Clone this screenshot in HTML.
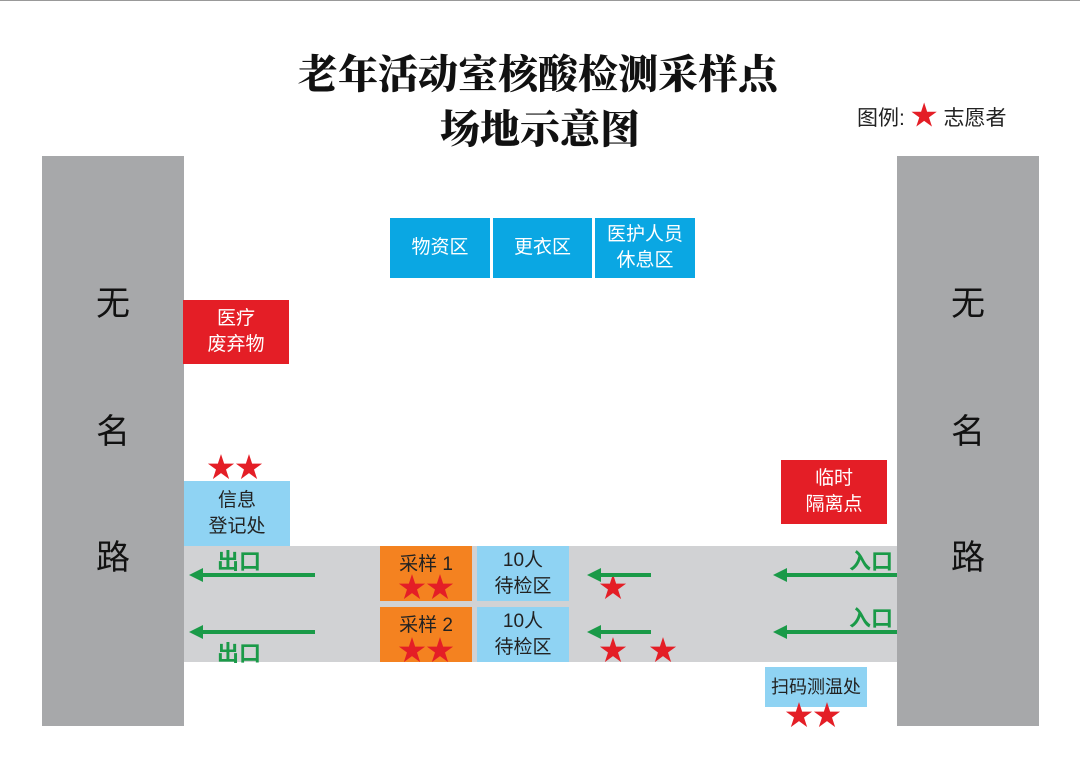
<!DOCTYPE html>
<html><head><meta charset="utf-8"><style>
body{margin:0;width:1080px;height:764px;background:#fff;position:relative;overflow:hidden;font-family:"Liberation Sans","Noto Sans CJK SC",sans-serif}
div{position:absolute;box-sizing:border-box}
.t{font-family:"Noto Serif CJK SC",serif;font-weight:900;font-size:40px;color:#111;width:1080px;text-align:center;left:0}
.road{background:#a7a8aa;top:156px;height:570px;width:142px}
.rc{position:absolute;left:0;width:100%;text-align:center;font-size:34px;color:#111}
.box{display:flex;align-items:center;justify-content:center;text-align:center;font-size:19px;line-height:26px}
.blue{background:#0aa7e3;color:#fff}
.lb{background:#8fd3f3;color:#222}
.red{background:#e41e26;color:#fff}
.or{background:#f48220;color:#222}
.st{color:#e41e26;font-size:28px;line-height:28px}
.g{color:#1a9a48;font-weight:bold;font-size:22px}
</style></head><body>
<div style="left:0;top:0;width:1080px;height:1px;background:#999"></div>
<div class="t" style="top:43px;left:-2px">老年活动室核酸检测采样点</div>
<div class="t" style="top:98px">场地示意图</div>
<div style="left:857px;top:94px;font-size:21px;color:#222">图例: <span style="color:#e41e26;font-size:27px">★</span> 志愿者</div>

<div class="road" style="left:42px"><span class="rc" style="top:120px">无</span><span class="rc" style="top:248px">名</span><span class="rc" style="top:374px">路</span></div>
<div class="road" style="left:897px"><span class="rc" style="top:120px">无</span><span class="rc" style="top:248px">名</span><span class="rc" style="top:374px">路</span></div>

<div style="left:184px;top:546px;width:713px;height:116px;background:#d1d2d4"></div>

<div class="box blue" style="left:390px;top:218px;width:100px;height:60px">物资区</div>
<div class="box blue" style="left:493px;top:218px;width:99px;height:60px">更衣区</div>
<div class="box blue" style="left:595px;top:218px;width:100px;height:60px">医护人员<br>休息区</div>

<div class="box red" style="left:183px;top:300px;width:106px;height:64px">医疗<br>废弃物</div>
<div class="box red" style="left:781px;top:460px;width:106px;height:64px">临时<br>隔离点</div>

<div class="st" style="left:207px;top:454px">★★</div>
<div class="box lb" style="left:184px;top:481px;width:106px;height:65px">信息<br>登记处</div>

<div class="box or" style="left:380px;top:546px;width:92px;height:55px;align-items:flex-start;padding-top:6px">采样 1</div>
<div class="st" style="left:398px;top:574px">★★</div>
<div class="box lb" style="left:477px;top:546px;width:92px;height:55px">10人<br>待检区</div>
<div class="box or" style="left:380px;top:607px;width:92px;height:55px;align-items:flex-start;padding-top:6px">采样 2</div>
<div class="st" style="left:398px;top:637px">★★</div>
<div class="box lb" style="left:477px;top:607px;width:92px;height:55px">10人<br>待检区</div>

<div class="box lb" style="left:765px;top:667px;width:102px;height:40px;font-size:18px">扫码测温处</div>
<div class="st" style="left:785px;top:702px">★★</div>

<div class="st" style="left:599px;top:574px">★</div>
<div class="st" style="left:599px;top:637px">★</div>
<div class="st" style="left:649px;top:637px">★</div>

<svg style="position:absolute;left:0;top:0" width="1080" height="764">
<g stroke="#1a9a48" stroke-width="4" fill="#1a9a48">
<line x1="315" y1="575" x2="200" y2="575"/><polygon points="189,575 203,568 203,582" stroke="none"/>
<line x1="315" y1="632" x2="200" y2="632"/><polygon points="189,632 203,625 203,639" stroke="none"/>
<line x1="651" y1="575" x2="598" y2="575"/><polygon points="587,575 601,568 601,582" stroke="none"/>
<line x1="651" y1="632" x2="598" y2="632"/><polygon points="587,632 601,625 601,639" stroke="none"/>
<line x1="897" y1="575" x2="784" y2="575"/><polygon points="773,575 787,568 787,582" stroke="none"/>
<line x1="897" y1="632" x2="784" y2="632"/><polygon points="773,632 787,625 787,639" stroke="none"/>
</g></svg>
<div class="g" style="left:217px;top:544px">出口</div>
<div class="g" style="left:217px;top:636px">出口</div>
<div class="g" style="left:849px;top:544px">入口</div>
<div class="g" style="left:849px;top:601px">入口</div>
</body></html>
